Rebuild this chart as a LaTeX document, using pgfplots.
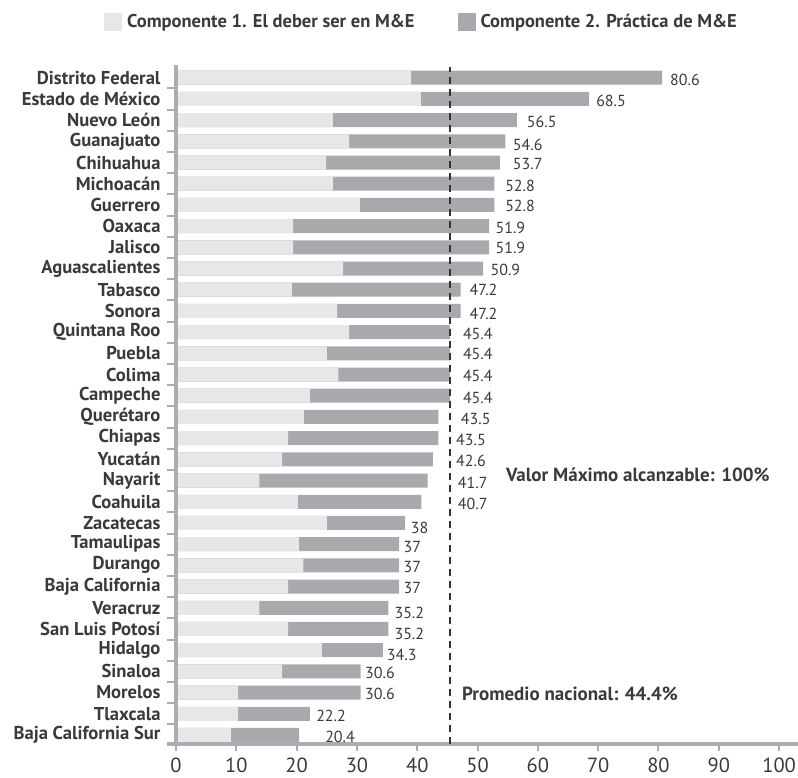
\documentclass[border=0pt]{standalone}
\usepackage{pgfplots}
\pgfplotsset{compat=1.18}
\usepackage{pgfplotstable}
\usepackage{fontspec}
\setmainfont{PT Sans}
\definecolor{cA}{HTML}{E6E7E8}
\definecolor{cB}{HTML}{A7A9AC}
\definecolor{txt}{HTML}{3A3A3A}
\definecolor{axc}{HTML}{ABADB0}

% y: row (0 = bottom), c1: Componente 1, tot: total, lx/ly: where the value label starts
\pgfplotstableread{
y  c1   tot  lx    ly    lab
31 39.0 80.6 81.90 30.89 80.6
30 40.6 68.5 69.65 29.92 68.5
29 26.0 56.5 58.16 28.92 56.5
28 28.7 54.6 55.84 27.83 54.6
27 24.9 53.7 55.84 26.93 53.7
26 26.0 52.8 54.56 25.91 52.8
25 30.5 52.8 54.56 24.96 52.8
24 19.4 51.9 52.95 23.92 51.9
23 19.4 51.9 52.95 22.98 51.9
22 27.7 50.9 52.12 21.93 50.9
21 19.2 47.2 48.64 20.99 47.2
20 26.7 47.2 48.64 19.85 47.2
19 28.7 45.4 47.55 18.91 45.4
18 25.0 45.4 47.55 17.95 45.4
17 26.9 45.4 47.55 16.93 45.4
16 22.2 45.4 47.55 15.91 45.4
15 21.2 43.5 47.21 14.93 43.5
14 18.6 43.5 46.43 13.94 43.5
13 17.6 42.6 46.43 12.91 42.6
12 13.8 41.7 46.72 11.88 41.7
11 20.2 40.7 46.72 10.92 40.7
10 25.0 38.0 38.92 9.77  38
9  20.4 37.0 37.69 8.87  37
8  21.1 37.0 37.69 7.91  37
7  18.6 37.0 37.69 6.92  37
6  13.8 35.2 36.20 5.76  35.2
5  18.6 35.2 36.20 4.76  35.2
4  24.2 34.3 34.94 3.77  34.3
3  17.6 30.6 31.34 2.91  30.6
2  10.3 30.6 31.34 1.93  30.6
1  10.3 22.2 23.22 0.91  22.2
0  9.1  20.4 24.71 -0.08 20.4
}\datos

\begin{document}
\begin{tikzpicture}
\begin{axis}[
    scale only axis,
    width=631.4bp, height=679bp,
    xmin=-1.5, xmax=103.2,
    ymin=-0.425, ymax=31.6,
    clip=false,
    axis line style={draw=none},
    tick pos=left,
    xtick={0,10,...,100},
    xtick align=outside,
    ytick align=inside,
    major tick length=7bp,
    minor tick length=9bp,
    every tick/.style={axc, line width=2bp},
    ytick={0,...,31},
    yticklabels={Baja California Sur, Tlaxcala, Morelos, Sinaloa, Hidalgo, San Luis Potosí, Veracruz, Baja California, Durango, Tamaulipas, Zacatecas, Coahuila, Nayarit, Yucatán, Chiapas, Querétaro, Campeche, Colima, Puebla, Quintana Roo, Sonora, Tabasco, Aguascalientes, Jalisco, Oaxaca, Guerrero, Michoacán, Chihuahua, Guanajuato, Nuevo León, Estado de México, Distrito Federal},
    every major y tick/.append style={draw=none},
    every minor y tick/.append style={axc, line width=2bp},
    minor ytick={0.5,1.5,...,30.5},
    yticklabel style={font=\bfseries\fontsize{18.6bp}{21bp}\selectfont, text=txt, xshift=-3bp},
    xticklabel style={font=\fontsize{20.5bp}{24bp}\selectfont, text=txt, yshift=-3bp},
    /pgf/number format/assume math mode=true,
    legend image code/.code={\fill[#1, draw=none] (0bp,-9bp) rectangle (18bp,9bp);},
    legend style={at={(axis description cs:-0.0998,1.0633)}, anchor=west,
        draw=none, fill=none, inner sep=0pt, legend columns=2,
        font=\bfseries\fontsize{18.5bp}{22bp}\selectfont, text=txt,
        /tikz/every odd column/.append style={column sep=3bp},
        /tikz/every even column/.append style={column sep=41bp}},
    legend cell align=left,
]
\addlegendimage{fill=cA, draw=none}
\addlegendentry{Componente 1. El deber ser en M\&E}
\addlegendimage{fill=cB, draw=none}
\addlegendentry{Componente 2. Práctica de M\&E}

\addplot[xbar, bar width=14bp, bar shift=0pt, fill=cB, draw=none, forget plot]
    table[x=tot, y=y] {\datos};
\addplot[xbar, bar width=14bp, bar shift=0pt, fill=cA, draw=none, forget plot]
    table[x=c1, y=y] {\datos};
\addplot[draw=none, mark=none, forget plot,
    nodes near coords, point meta=explicit symbolic,
    nodes near coords align=horizontal,
    every node near coord/.append style={anchor=west, inner sep=0pt,
        font=\fontsize{16bp}{18bp}\selectfont, text=txt}]
    table[x=lx, y=ly, meta=lab] {\datos};

\draw[axc, line width=4bp] (axis cs:0,-0.425) -- (axis cs:0,31.6);
\draw[axc, line width=4bp] (axis cs:-1.5,-0.425) -- (axis cs:103.2,-0.425);
\draw[black!80, line width=2bp, dash pattern=on 7bp off 5bp] (axis cs:45.4,-0.425) -- (axis cs:45.4,31.5);

\node[anchor=west, inner sep=0pt, text=txt, font=\bfseries\fontsize{19bp}{22bp}\selectfont]
    at (axis cs:54.7,12.26) {Valor Máximo alcanzable: 100\%};
\node[anchor=west, inner sep=0pt, text=txt, font=\bfseries\fontsize{19bp}{22bp}\selectfont]
    at (axis cs:47.4,1.93) {Promedio nacional: 44.4\%};
\end{axis}
\pgfresetboundingbox
\path[use as bounding box] (-167bp,-34bp) rectangle (631bp,744bp);
\end{tikzpicture}
\end{document}
